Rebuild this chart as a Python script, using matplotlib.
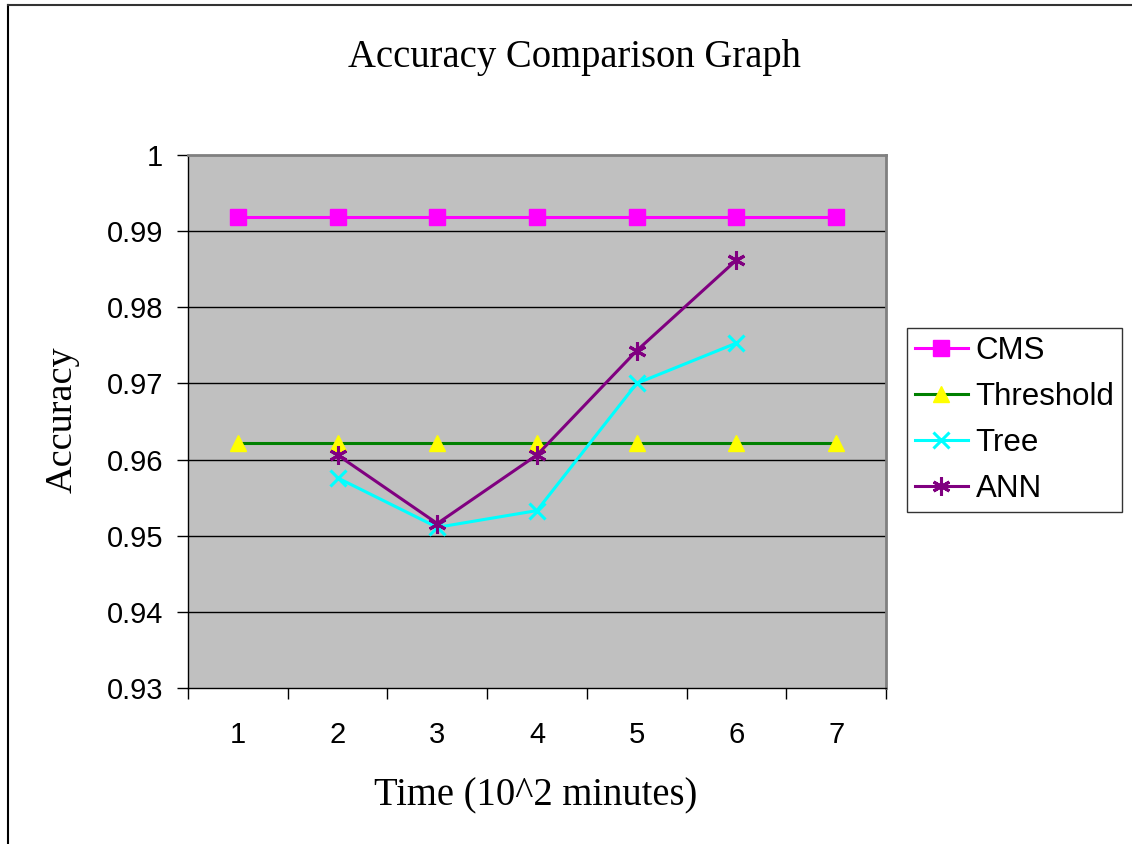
import numpy as np
import matplotlib
matplotlib.use('Agg')
import matplotlib.pyplot as plt
from matplotlib.lines import Line2D

# data
time_points = [1, 2, 3, 4, 5, 6, 7]
cms = [0.9918, 0.9918, 0.9918, 0.9918, 0.9918, 0.9918, 0.9918]
threshold = [0.9622, 0.9622, 0.9622, 0.9622, 0.9622, 0.9622, 0.9622]
tree_x = [2, 3, 4, 5, 6]
tree = [0.9576, 0.9511, 0.9533, 0.9700, 0.9753]
ann_x = [2, 3, 4, 5, 6]
ann = [0.9606, 0.9516, 0.9606, 0.9743, 0.9862]
y_ticks = [0.93, 0.94, 0.95, 0.96, 0.97, 0.98, 0.99, 1.0]
y_labels = ['0.93', '0.94', '0.95', '0.96', '0.97', '0.98', '0.99', '1']

serif = ['Liberation Serif', 'DejaVu Serif']
sans = ['Liberation Sans', 'DejaVu Sans']

fig = plt.figure(figsize=(11.32, 8.44), dpi=100)
ax = fig.add_axes([188 / 1132, 1 - 688 / 844, 698 / 1132, 533 / 844])
ax.set_facecolor('#C0C0C0')

# gridlines
for v in y_ticks[1:-1]:
    ax.axhline(v, color='black', linewidth=1.0, zorder=1)

ax.plot(time_points, cms, color='#FF00FF', linewidth=2.2, marker='s',
        markersize=11, markerfacecolor='#FF00FF', markeredgecolor='#FF00FF',
        label='CMS', zorder=3)
ax.plot(time_points, threshold, color='#008000', linewidth=2.2, marker='^',
        markersize=12, markerfacecolor='#FFFF00', markeredgecolor='#FFFF00',
        label='Threshold', zorder=3)
ax.plot(tree_x, tree, color='#00FFFF', linewidth=2.2, marker='x',
        markersize=11, markeredgewidth=2.2, label='Tree', zorder=4)
ax.plot(ann_x, ann, color='#800080', linewidth=2.2, marker=(6, 2, 0),
        markersize=13, markeredgewidth=2.2, label='ANN', zorder=5)

ax.set_xlim(0.5, 7.5)
ax.set_ylim(0.93, 1.0)
ax.set_yticks(y_ticks)
ax.set_yticklabels(y_labels, fontfamily=sans, fontsize=21)

# category axis: ticks between categories, labels at centers
ax.set_xticks(np.arange(0.5, 8.0, 1.0))
ax.set_xticklabels([])
ax.set_xticks(time_points, minor=True)
ax.set_xticklabels([str(t) for t in time_points], minor=True,
                   fontfamily=sans, fontsize=21)
ax.tick_params(axis='x', which='minor', length=0, pad=24)
ax.tick_params(axis='x', which='major', length=8, width=1, direction='out')
ax.tick_params(axis='y', length=8, width=1, direction='out', pad=10)

for side in ['top', 'right']:
    ax.spines[side].set_color('#808080')
    ax.spines[side].set_linewidth(2)
for side in ['left', 'bottom']:
    ax.spines[side].set_color('black')
    ax.spines[side].set_linewidth(1)

fig.text(574 / 1132, 1 - 58 / 844, 'Accuracy Comparison Graph', ha='center',
         va='center', fontfamily=serif, fontsize=27.8)
fig.text(536 / 1132, 1 - 796 / 844, 'Time (10^2 minutes)', ha='center',
         va='center', fontfamily=serif, fontsize=27.8)
fig.text(62 / 1132, 1 - 420 / 844, 'Accuracy', ha='center', va='center',
         rotation=90, fontfamily=serif, fontsize=27.5)

leg = ax.legend(loc='center left', bbox_to_anchor=(907 / 1132, 1 - 420 / 844),
                bbox_transform=fig.transFigure, prop={'family': sans, 'size': 22.5},
                frameon=True, fancybox=False, edgecolor='black',
                handlelength=1.7, handletextpad=0.25, labelspacing=0.52,
                borderpad=0.25, borderaxespad=0)
leg.get_frame().set_linewidth(1)

# outer frame of the picture
fig.add_artist(Line2D([8 / 1132, 8 / 1132], [0, 1 - 5 / 844],
                      transform=fig.transFigure, color='black', linewidth=1.5))
fig.add_artist(Line2D([8 / 1132, 1], [1 - 5 / 844, 1 - 5 / 844],
                      transform=fig.transFigure, color='#333333', linewidth=1.5))

fig.savefig('out.png', dpi=100)
